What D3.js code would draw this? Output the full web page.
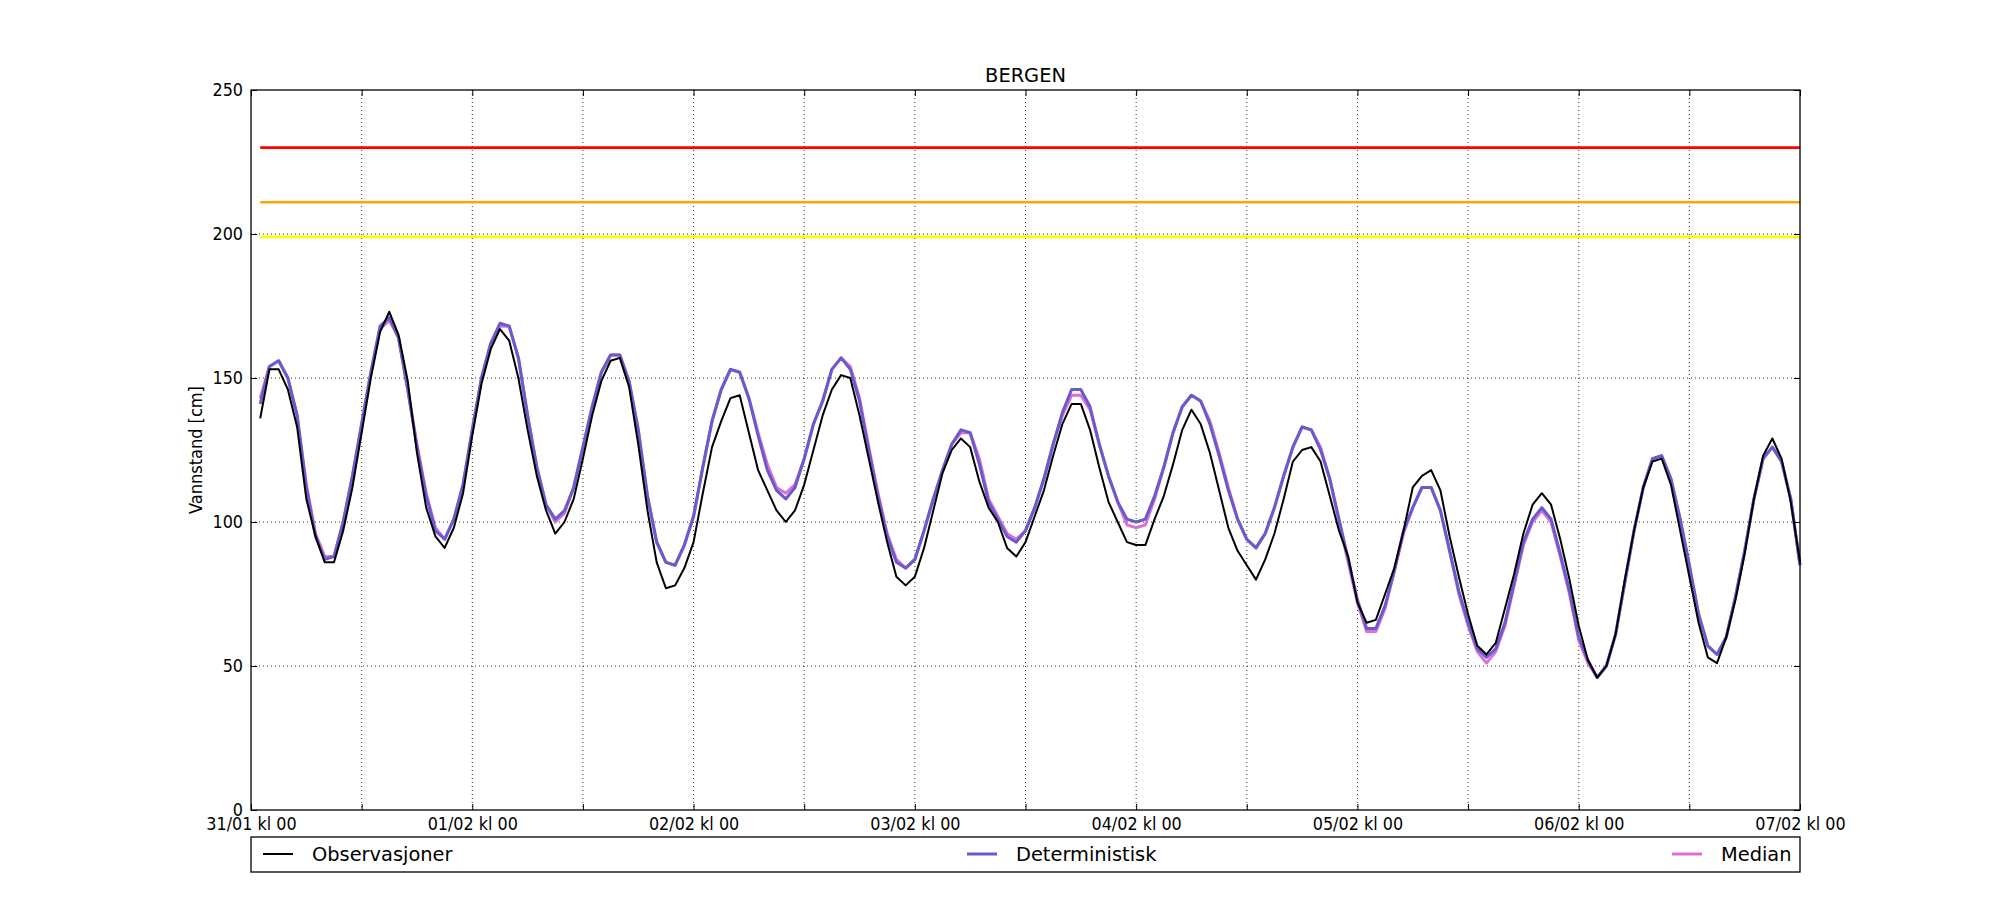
<!DOCTYPE html>
<html>
<head>
<meta charset="utf-8">
<script src="https://cdn.jsdelivr.net/npm/d3@7/dist/d3.min.js"></script>
<style>
  body { margin: 0; background: #fff; overflow: hidden; }
  svg { display: block; }
  text { font-family: "DejaVu Sans Condensed", "DejaVu Sans", sans-serif; font-stretch: condensed; fill: #000; }
  text.wide { font-family: "DejaVu Sans", sans-serif; font-stretch: normal; }
</style>
</head>
<body>
<div class="chart"></div>
<script>
// hourly values, 31/01 kl 01 -> 07/02 kl 00
const observasjoner = [
  136,153,153,146,133,108,95,86,86,97,112,131,
  150,166,173,165,149,124,105,95,91,98,110,130,
  148,160,167,163,150,132,116,104,96,100,108,122,
  137,149,156,157,147,127,104,86,77,78,84,93,
  110,126,135,143,144,131,118,111,104,100,104,113,
  125,137,146,151,150,137,122,107,93,81,78,81,
  91,104,117,125,129,126,114,105,100,91,88,93,
  102,111,123,134,141,141,132,119,107,100,93,92,
  92,101,109,120,132,139,134,124,111,98,90,85,
  80,87,96,108,121,125,126,121,109,97,88,72,
  65,66,75,84,97,112,116,118,111,95,81,68,
  57,54,58,70,82,96,106,110,106,94,80,64,
  52,46,50,61,80,97,112,121,122,113,97,81,
  65,53,51,60,73,89,108,123,129,122,107,86
]

const deterministisk = [
  141,154,156,150,137,112,95,87,88,100,116,134,
  152,168,171,164,146,126,109,97,94,101,113,132,
  150,162,169,168,157,137,119,106,101,104,112,126,
  140,152,158,158,149,132,109,93,86,85,92,102,
  119,135,146,153,152,143,130,118,111,108,112,122,
  134,142,153,157,153,142,125,109,95,86,84,87,
  97,108,118,127,132,131,120,107,101,95,93,97,
  105,115,127,138,146,146,140,127,116,107,101,100,
  101,109,119,131,140,144,142,134,123,111,101,94,
  91,96,105,116,126,133,132,125,115,101,87,73,
  63,63,71,83,97,105,112,112,104,90,76,65,
  56,53,56,65,79,93,101,105,101,89,76,60,
  52,46,50,61,79,97,112,122,123,115,101,85,
  68,57,54,60,74,90,108,122,126,121,108,85
]

const median = [
  143,154,156,150,137,113,96,88,88,100,116,134,
  152,167,170,164,146,127,110,98,94,101,113,132,
  150,162,168,168,157,137,119,106,100,103,112,126,
  140,152,158,158,149,132,109,93,86,85,92,102,
  119,135,146,153,152,143,131,120,112,110,113,122,
  134,142,153,157,154,143,126,110,96,87,84,87,
  97,108,118,127,131,131,122,108,102,96,94,97,
  105,115,127,137,144,144,139,127,116,107,99,98,
  99,108,119,131,140,144,142,135,124,112,101,94,
  91,96,105,116,126,133,132,126,115,100,86,72,
  62,62,70,83,96,105,112,112,104,90,75,64,
  55,51,55,64,78,92,100,104,100,88,75,59,
  51,46,50,61,79,97,112,122,123,115,101,85,
  68,57,54,60,74,90,108,122,126,121,108,85
]

// warning levels [cm]
const terskler = [
  { niva: 230, farge: '#ff0000' },
  { niva: 211, farge: '#ffa500' },
  { niva: 199, farge: '#ffff00' }
]

const yTicks = [0, 50, 100, 150, 200, 250]

const start = new Date(Date.UTC(2016, 0, 31, 0))
const slutt = new Date(Date.UTC(2016, 1, 7, 0))
const tider = observasjoner.map((d, i) => d3.utcHour.offset(start, i + 1))

const serier = [
  { navn: 'Median', verdier: median, farge: '#da70d6', bredde: 3 },
  { navn: 'Deterministisk', verdier: deterministisk, farge: '#6a5acd', bredde: 3 },
  { navn: 'Observasjoner', verdier: observasjoner, farge: '#000000', bredde: 2 }
]

const width = 2000
const height = 900
const margin = { top: 90, right: 200, bottom: 90, left: 251 }
const innerWidth = width - margin.left - margin.right
const innerHeight = height - margin.top - margin.bottom

const svg = d3.select('.chart')
  .append('svg')
  .attr('width', width)
  .attr('height', height)

const g = svg.append('g')
  .attr('transform', `translate(${margin.left},${margin.top})`)

const x = d3.scaleUtc()
  .domain([start, slutt])
  .range([0, innerWidth])

const y = d3.scaleLinear()
  .domain([0, 250])
  .range([innerHeight, 0])

const xTicks = d3.utcHour.every(12).range(start, d3.utcHour.offset(slutt, 1))

// grid
g.append('g')
  .selectAll('line')
  .data(xTicks.slice(1, -1))
  .join('line')
  .attr('x1', d => x(d)).attr('x2', d => x(d))
  .attr('y1', 0).attr('y2', innerHeight)
  .attr('stroke', '#000').attr('stroke-width', 0.8)
  .attr('stroke-dasharray', '1,3')

g.append('g')
  .selectAll('line')
  .data(yTicks.slice(1, -1))
  .join('line')
  .attr('x1', 0).attr('x2', innerWidth)
  .attr('y1', d => y(d)).attr('y2', d => y(d))
  .attr('stroke', '#000').attr('stroke-width', 0.8)
  .attr('stroke-dasharray', '1,3')

// warning lines
g.append('g')
  .selectAll('line')
  .data(terskler)
  .join('line')
  .attr('x1', x(tider[0])).attr('x2', x(tider[tider.length - 1]))
  .attr('y1', d => y(d.niva)).attr('y2', d => y(d.niva))
  .attr('stroke', d => d.farge)
  .attr('stroke-width', 2.6)

// series
const line = d3.line()
  .x((d, i) => x(tider[i]))
  .y(d => y(d))

g.append('g')
  .selectAll('path')
  .data(serier)
  .join('path')
  .attr('fill', 'none')
  .attr('stroke', d => d.farge)
  .attr('stroke-width', d => d.bredde)
  .attr('stroke-linejoin', 'round')
  .attr('d', d => line(d.verdier))

// axes, ticks pointing inwards
const fmt = d3.utcFormat('%d/%m kl %H')

g.append('g')
  .attr('class', 'axis axis--x')
  .attr('transform', `translate(0,${innerHeight})`)
  .call(d3.axisBottom(x)
    .tickValues(xTicks)
    .tickSize(-6)
    .tickPadding(7)
    .tickFormat(d => d.getUTCHours() === 0 ? fmt(d) : ''))

g.append('g')
  .attr('class', 'axis')
  .call(d3.axisTop(x).tickValues(xTicks).tickSize(-6).tickFormat(''))

g.append('g')
  .attr('class', 'axis axis--y')
  .call(d3.axisLeft(y)
    .tickValues(yTicks)
    .tickSize(-6)
    .tickPadding(8))

g.append('g')
  .attr('class', 'axis')
  .attr('transform', `translate(${innerWidth},0)`)
  .call(d3.axisRight(y).tickValues(yTicks).tickSize(-6).tickFormat(''))

g.selectAll('.axis .domain').remove()
g.selectAll('.axis text').filter(function() { return this.textContent === '' }).remove()
g.selectAll('.axis text').attr('font-size', 17.8).attr('font-family', null)
g.selectAll('.axis line').attr('stroke', '#000')

g.append('rect')
  .attr('width', innerWidth)
  .attr('height', innerHeight)
  .attr('fill', 'none')
  .attr('stroke', '#000')
  .attr('stroke-width', 1.3)

// title and y label
g.append('text')
  .attr('class', 'wide')
  .attr('x', innerWidth / 2)
  .attr('y', -8)
  .attr('text-anchor', 'middle')
  .attr('font-size', 19.4)
  .text('BERGEN')

g.append('text')
  .attr('transform', `translate(-49,${innerHeight / 2}) rotate(-90)`)
  .attr('text-anchor', 'middle')
  .attr('font-size', 18)
  .text('Vannstand [cm]')

// legend below the plot
const legend = g.append('g')
  .attr('transform', `translate(0,${innerHeight + 27})`)

legend.append('rect')
  .attr('width', innerWidth)
  .attr('height', 35)
  .attr('fill', '#fff')
  .attr('stroke', '#000')
  .attr('stroke-width', 1.3)

const legendItems = [serier[2], serier[1], serier[0]]
const legendX = [12, 716, 1421]

const item = legend.selectAll('.item')
  .data(legendItems)
  .join('g')
  .attr('class', 'item')
  .attr('transform', (d, i) => `translate(${legendX[i]},17)`)

item.append('line')
  .attr('x1', 0).attr('x2', 30)
  .attr('stroke', d => d.farge)
  .attr('stroke-width', d => d.bredde)

item.append('text')
  .attr('class', 'wide')
  .attr('x', 49)
  .attr('dy', '0.36em')
  .attr('font-size', 19.4)
  .text(d => d.navn)
</script>
</body>
</html>
